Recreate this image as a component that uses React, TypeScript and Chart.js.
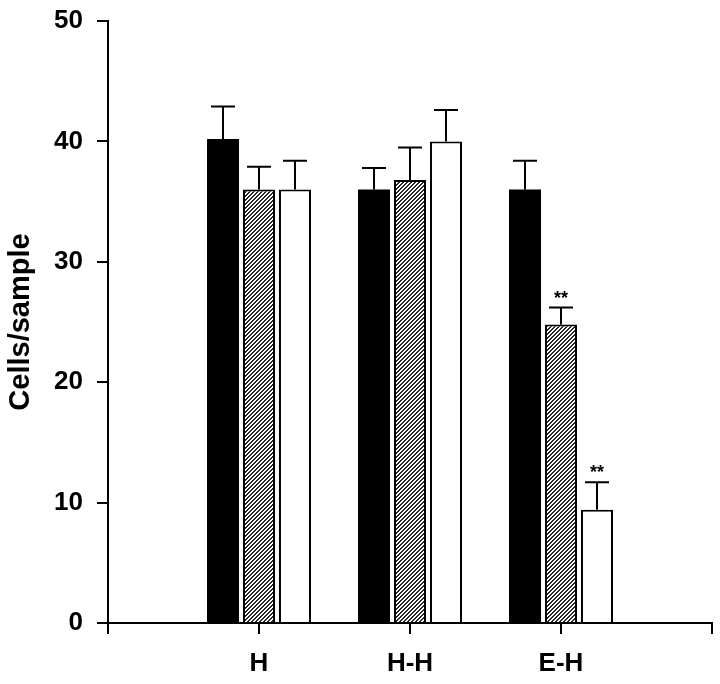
import React, { useEffect, useRef } from "react";
import { Chart, registerables } from "chart.js";

Chart.register(...registerables);

const categories = ["", "H", "H-H", "E-H", ""];
const blackValues = [null, 40.2, 36, 36, null];
const blackErrors = [null, 2.7, 1.8, 2.4, null];
const hatchValues = [null, 36, 36.8, 24.8, null];
const hatchErrors = [null, 1.9, 2.7, 1.4, null];
const whiteValues = [null, 36, 40, 9.4, null];
const whiteErrors = [null, 2.4, 2.6, 2.3, null];
const hatchMarks = ["", "", "", "**", ""];
const whiteMarks = ["", "", "", "**", ""];
const yTicks = [0, 10, 20, 30, 40, 50];

function makeHatch(): CanvasPattern | string {
  const c = document.createElement("canvas");
  c.width = 4;
  c.height = 4;
  const ctx = c.getContext("2d");
  if (!ctx) return "#888";
  const img = ctx.createImageData(4, 4);
  for (let y = 0; y < 4; y++) {
    for (let x = 0; x < 4; x++) {
      const i = (y * 4 + x) * 4;
      const dark = (x + y) % 4 < 2;
      const v = dark ? 40 : 255;
      img.data[i] = v;
      img.data[i + 1] = v;
      img.data[i + 2] = v;
      img.data[i + 3] = 255;
    }
  }
  ctx.putImageData(img, 0, 0);
  return ctx.createPattern(c, "repeat") || "#888";
}

const errorBarPlugin = {
  id: "errorBars",
  afterDatasetsDraw(chart: any) {
    const ctx = chart.ctx;
    const yScale = chart.scales.y;
    ctx.save();
    ctx.strokeStyle = "#000";
    ctx.fillStyle = "#000";
    ctx.lineWidth = 2;
    chart.data.datasets.forEach((ds: any, di: number) => {
      const meta = chart.getDatasetMeta(di);
      ds.data.forEach((v: number | null, i: number) => {
        if (v == null) return;
        const err = ds.errors[i];
        const el = meta.data[i];
        if (!el) return;
        const x = el.x;
        const yTop = yScale.getPixelForValue(v);
        const yCap = yScale.getPixelForValue(v + err);
        ctx.beginPath();
        ctx.moveTo(x, yTop);
        ctx.lineTo(x, yCap);
        ctx.moveTo(x - 12, yCap);
        ctx.lineTo(x + 12, yCap);
        ctx.stroke();
        const mark = ds.marks ? ds.marks[i] : "";
        if (mark) {
          ctx.font = "bold 18px 'Liberation Sans', Arial, sans-serif";
          ctx.textAlign = "center";
          ctx.textBaseline = "middle";
          ctx.fillText(mark, x, yCap - 9);
        }
      });
    });
    ctx.restore();
  },
};

export default function App() {
  const ref = useRef<HTMLCanvasElement | null>(null);

  useEffect(() => {
    document.body.style.margin = "0";
    const canvas = ref.current;
    if (!canvas) return;
    const hatch = makeHatch();
    const chart = new Chart(canvas, {
      type: "bar",
      data: {
        labels: categories,
        datasets: [
          {
            label: "black",
            data: blackValues,
            errors: blackErrors,
            backgroundColor: "#000",
            borderWidth: 0,
            categoryPercentage: 0.715,
            barPercentage: 0.89,
          } as any,
          {
            label: "hatched",
            data: hatchValues,
            errors: hatchErrors,
            marks: hatchMarks,
            backgroundColor: hatch,
            borderColor: "#000",
            borderWidth: 2,
            categoryPercentage: 0.715,
            barPercentage: 0.89,
          } as any,
          {
            label: "white",
            data: whiteValues,
            errors: whiteErrors,
            marks: whiteMarks,
            backgroundColor: "#fff",
            borderColor: "#000",
            borderWidth: 2,
            categoryPercentage: 0.715,
            barPercentage: 0.89,
          } as any,
        ],
      },
      options: {
        responsive: false,
        animation: false,
        layout: { padding: { top: 21, right: 8, bottom: 0, left: 0 } },
        plugins: {
          legend: { display: false },
          tooltip: { enabled: false },
        },
        scales: {
          x: {
            type: "category",
            offset: false,
            grid: {
              display: true,
              offset: false,
              drawOnChartArea: false,
              drawTicks: true,
              tickLength: 11,
              color: "#000",
              lineWidth: 2,
            },
            border: { display: true, color: "#000", width: 2 },
            ticks: {
              color: "#000",
              padding: 14,
              autoSkip: false,
              maxRotation: 0,
              font: { family: "'Liberation Sans', Arial, sans-serif", size: 26, weight: "bold" },
            },
            afterFit(scale: any) {
              scale.height = 61;
              scale.paddingLeft = 0;
              scale.paddingRight = 0;
            },
          },
          y: {
            type: "linear",
            min: 0,
            max: 50,
            afterBuildTicks(scale: any) {
              scale.ticks = yTicks.map((v) => ({ value: v }));
            },
            grid: {
              display: true,
              drawOnChartArea: false,
              drawTicks: true,
              tickLength: 11,
              color: "#000",
              lineWidth: 2,
            },
            border: { display: true, color: "#000", width: 2 },
            ticks: {
              color: "#000",
              padding: 14,
              font: { family: "'Liberation Sans', Arial, sans-serif", size: 26, weight: "bold" },
            },
            title: {
              display: true,
              text: "Cells/sample",
              color: "#000",
              padding: { top: 4, bottom: 0 },
              font: { family: "'Liberation Sans', Arial, sans-serif", size: 29, weight: "bold" },
            },
            afterFit(scale: any) {
              scale.width = 108;
              scale.paddingTop = 0;
              scale.paddingBottom = 0;
            },
          },
        },
      } as any,
      plugins: [errorBarPlugin],
    });
    return () => chart.destroy();
  }, []);

  return <canvas ref={ref} width={720} height={684} style={{ display: "block" }} />;
}
